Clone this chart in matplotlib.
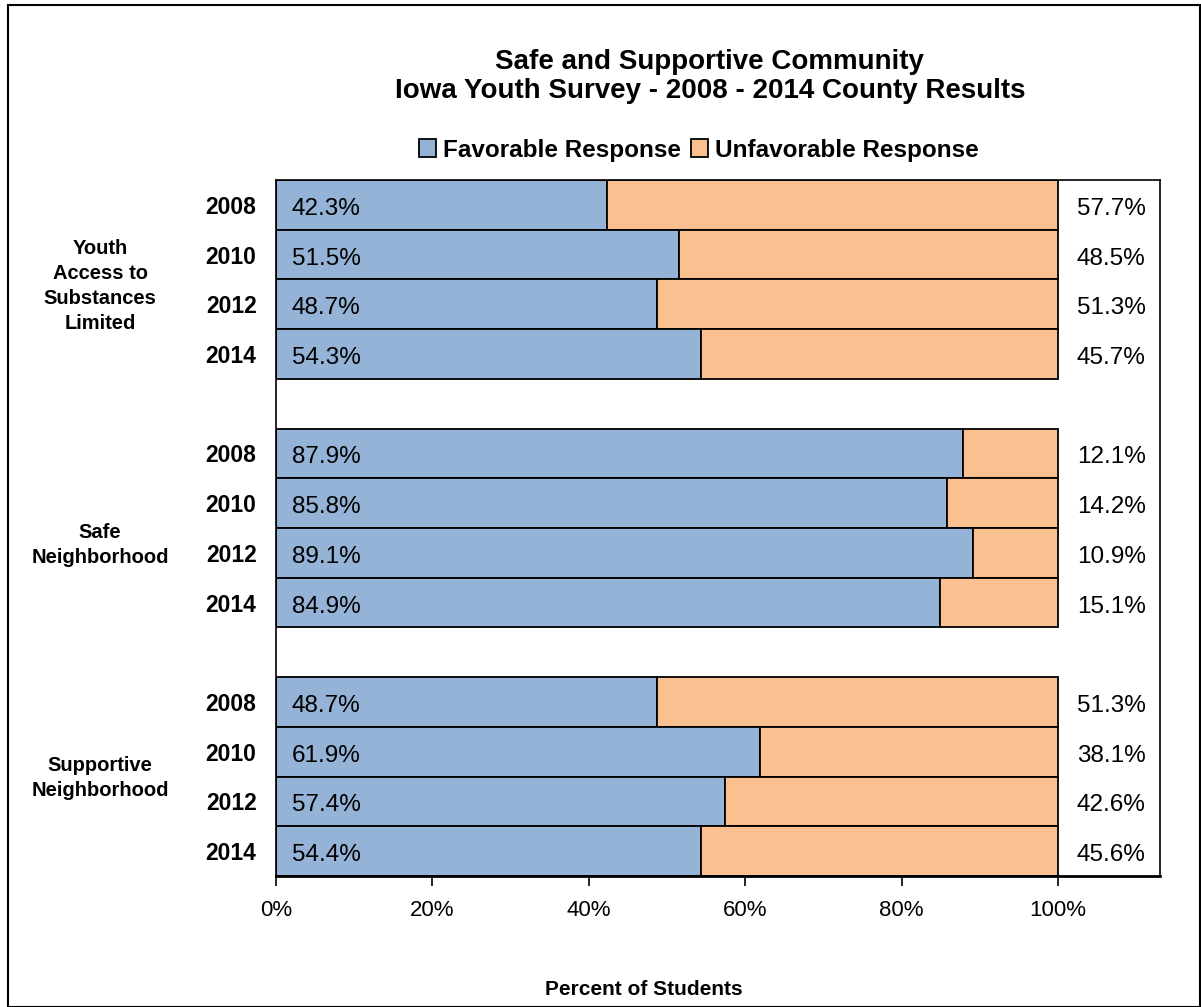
import matplotlib.pyplot as plt
from matplotlib.patches import Rectangle

plt.rcParams['font.family'] = ['Liberation Sans', 'DejaVu Sans']

# Daten
groups = ['Youth\nAccess to\nSubstances\nLimited', 'Safe\nNeighborhood', 'Supportive\nNeighborhood']
years = ['2008', '2010', '2012', '2014']
favorable = [
    [42.3, 51.5, 48.7, 54.3],
    [87.9, 85.8, 89.1, 84.9],
    [48.7, 61.9, 57.4, 54.4],
]
unfavorable = [
    [57.7, 48.5, 51.3, 45.7],
    [12.1, 14.2, 10.9, 15.1],
    [51.3, 38.1, 42.6, 45.6],
]
series_names = ['Favorable Response', 'Unfavorable Response']
colors = ['#95B3D7', '#FAC090']

fig = plt.figure(figsize=(12.01, 10.07), dpi=100)
ax = fig.add_axes([0.2298, 0.1301, 0.7361, 0.6912])

# Rahmen um die ganze Grafik
fig.patches.append(Rectangle((0.007, 0.0), 0.992, 0.995, transform=fig.transFigure,
                             fill=False, edgecolor='black', linewidth=1.5))

ypos, ylabels = [], []
for g in range(len(groups)):
    for i, yr in enumerate(years):
        y = g * 5 + i + 0.5
        fav = favorable[g][i]
        unf = unfavorable[g][i]
        ax.barh(y, fav, height=1, color=colors[0], edgecolor='black', linewidth=1.3,
                label=series_names[0] if (g == 0 and i == 0) else None)
        ax.barh(y, unf, left=fav, height=1, color=colors[1], edgecolor='black', linewidth=1.3,
                label=series_names[1] if (g == 0 and i == 0) else None)
        ax.text(2, y + 0.08, f'{fav:.1f}%', ha='left', va='center', fontsize=17.5)
        ax.text(106.8, y + 0.08, f'{unf:.1f}%', ha='center', va='center', fontsize=17.5)
        ypos.append(y)
        ylabels.append(yr)

# Gruppenbeschriftungen links
group_y = [2.13, 7.34, 12.03]
for g, name in enumerate(groups):
    ax.text(-22.5, group_y[g], name, ha='center', va='center', fontsize=14.5,
            fontweight='bold', linespacing=1.4)

ax.set_xlim(0, 113.04)
ax.set_ylim(14, 0)
ax.set_yticks(ypos)
ax.set_yticklabels(ylabels, fontsize=16.5, fontweight='bold')
ax.tick_params(axis='y', length=0, pad=14)
ax.set_xticks([0, 20, 40, 60, 80, 100])
ax.set_xticklabels(['0%', '20%', '40%', '60%', '80%', '100%'], fontsize=16)
ax.tick_params(axis='x', direction='out', length=7, width=1.2, pad=10)
for s in ax.spines.values():
    s.set_linewidth(1.2)
ax.spines['bottom'].set_linewidth(2)

ax.set_xlabel('Percent of Students', fontsize=15, fontweight='bold')
ax.xaxis.set_label_coords(0.416, -0.149)

fig.text(0.591, 0.924, 'Safe and Supportive Community\nIowa Youth Survey - 2008 - 2014 County Results',
         ha='center', va='center', fontsize=20, fontweight='bold', linespacing=1.15)

fig.legend(loc='center', bbox_to_anchor=(0.582, 0.851), ncol=2, frameon=False,
           prop={'size': 17.5, 'weight': 'bold'}, handlelength=0.7, handleheight=0.8,
           handletextpad=0.3, columnspacing=0.4)

plt.savefig('out.png', dpi=100)
